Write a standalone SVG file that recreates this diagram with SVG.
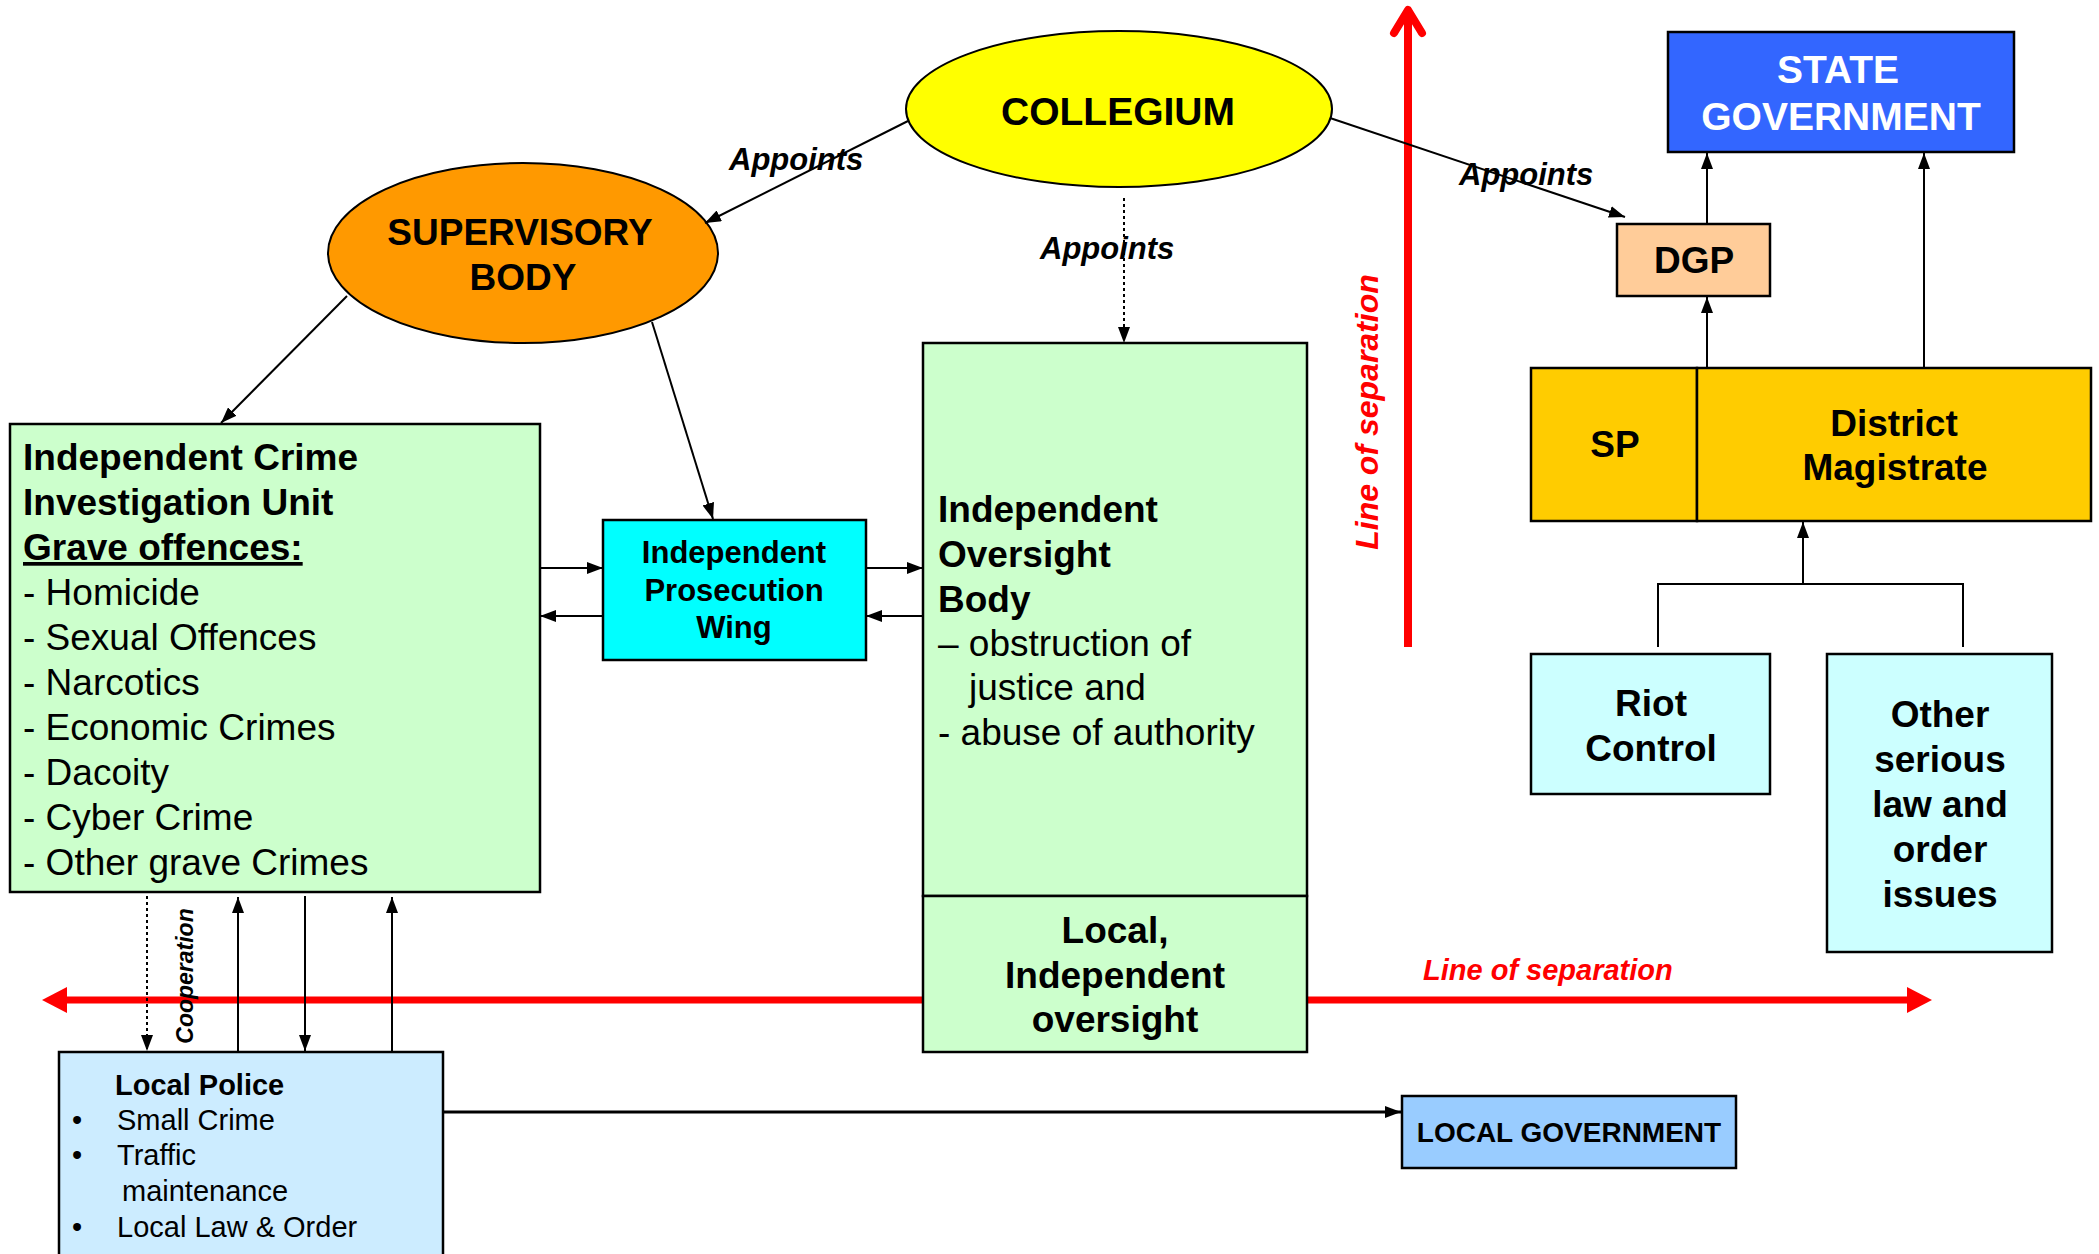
<svg xmlns="http://www.w3.org/2000/svg" width="2099" height="1254" viewBox="0 0 2099 1254">
<defs>
<marker id="ah" viewBox="0 0 16 12" refX="16" refY="6" markerWidth="16" markerHeight="12" markerUnits="userSpaceOnUse" orient="auto"><path d="M0,0 L16,6 L0,12 z" fill="#000"/></marker>
<style>
text{font-family:"Liberation Sans",Arial,sans-serif;fill:#000}
.b{font-weight:bold}
.t37{font-size:37px}
.t36{font-size:37px}
.c{text-anchor:middle}
.lbl{font-size:31px;font-weight:bold;font-style:italic}
.box{stroke:#000;stroke-width:2.5}
.con{stroke:#000;stroke-width:2;fill:none}
.dot{stroke:#000;stroke-width:2;fill:none;stroke-dasharray:3 3}
.red{fill:#FF0000}
.redtxt{fill:#FF0000;font-weight:bold;font-style:italic}
</style>
</defs>
<rect width="2099" height="1254" fill="#fff"/>

<g id="separation">
<line x1="1408" y1="647" x2="1408" y2="10" stroke="#FF0000" stroke-width="8"/>
<polyline points="1394,33 1408,10 1422,33" fill="none" stroke="#FF0000" stroke-width="8" stroke-linecap="round" stroke-linejoin="round"/>
<line x1="62" y1="1000" x2="1910" y2="1000" stroke="#FF0000" stroke-width="7"/>
<polygon class="red" points="1907,987 1932,1000 1907,1013"/>
<polygon class="red" points="67,987 42,1000 67,1013"/>
<text class="redtxt" font-size="32" text-anchor="middle" transform="translate(1378,412) rotate(-90)">Line of separation</text>
<text class="redtxt" font-size="29" x="1423" y="980">Line of separation</text>
</g>

<g id="collegium">
<ellipse cx="1119" cy="109" rx="213" ry="78" fill="#FFFF00" stroke="#000" stroke-width="2"/>
<text class="b c" font-size="39" x="1118" y="125">COLLEGIUM</text>
</g>

<g id="supervisory">
<ellipse cx="523" cy="253" rx="195" ry="90" fill="#FF9900" stroke="#000" stroke-width="2"/>
<text class="b c t36" x="520" y="245">SUPERVISORY</text>
<text class="b c t36" x="523" y="290">BODY</text>
</g>

<g id="iciu">
<rect class="box" x="10" y="424" width="530" height="468" fill="#CCFFCC"/>
<text class="t37" x="23">
<tspan class="b" x="23" y="470">Independent Crime</tspan>
<tspan class="b" x="23" y="515">Investigation Unit</tspan>
<tspan class="b" x="23" y="560" text-decoration="underline">Grave offences:</tspan>
<tspan x="23" y="605">- Homicide</tspan>
<tspan x="23" y="650">- Sexual Offences</tspan>
<tspan x="23" y="695">- Narcotics</tspan>
<tspan x="23" y="740">- Economic Crimes</tspan>
<tspan x="23" y="785">- Dacoity</tspan>
<tspan x="23" y="830">- Cyber Crime</tspan>
<tspan x="23" y="875">- Other grave Crimes</tspan>
</text>
</g>

<g id="prosecution">
<rect class="box" x="603" y="520" width="263" height="140" fill="#00FFFF"/>
<text class="b c" font-size="31" x="734" y="563">Independent</text>
<text class="b c" font-size="31" x="734" y="601">Prosecution</text>
<text class="b c" font-size="31" x="734" y="638">Wing</text>
</g>

<g id="oversight">
<rect class="box" x="923" y="343" width="384" height="553" fill="#CCFFCC"/>
<text class="b t37" x="938" y="522">Independent</text>
<text class="b t37" x="938" y="567">Oversight</text>
<text class="b t37" x="938" y="612">Body</text>
<text class="t37" x="938" y="656">– obstruction of</text>
<text class="t37" x="969" y="700">justice and</text>
<text class="t37" x="938" y="745">- abuse of authority</text>
</g>

<g id="local-oversight">
<rect class="box" x="923" y="896" width="384" height="156" fill="#CCFFCC"/>
<text class="b c t37" x="1115" y="943">Local,</text>
<text class="b c t37" x="1115" y="988">Independent</text>
<text class="b c t37" x="1115" y="1032">oversight</text>
</g>

<g id="state-government">
<rect class="box" x="1668" y="32" width="346" height="120" fill="#3366FF"/>
<text class="b c" font-size="39" x="1838" y="83" style="fill:#fff">STATE</text>
<text class="b c" font-size="39" x="1841" y="130" style="fill:#fff">GOVERNMENT</text>
</g>

<g id="dgp">
<rect class="box" x="1617" y="224" width="153" height="72" fill="#FFCC99"/>
<text class="b c t37" x="1694" y="273">DGP</text>
</g>

<g id="sp">
<rect class="box" x="1531" y="368" width="166" height="153" fill="#FFCC00"/>
<text class="b c t37" x="1615" y="457">SP</text>
</g>

<g id="district-magistrate">
<rect class="box" x="1697" y="368" width="394" height="153" fill="#FFCC00"/>
<text class="b c t37" x="1894" y="436">District</text>
<text class="b c t37" x="1895" y="480">Magistrate</text>
</g>

<g id="riot-control">
<rect class="box" x="1531" y="654" width="239" height="140" fill="#CCFFFF"/>
<text class="b c t37" x="1651" y="716">Riot</text>
<text class="b c t37" x="1651" y="761">Control</text>
</g>

<g id="other-issues">
<rect class="box" x="1827" y="654" width="225" height="298" fill="#CCFFFF"/>
<text class="b c t37" x="1940" y="727">Other</text>
<text class="b c t37" x="1940" y="772">serious</text>
<text class="b c t37" x="1940" y="817">law and</text>
<text class="b c t37" x="1940" y="862">order</text>
<text class="b c t37" x="1940" y="907">issues</text>
</g>

<g id="local-police">
<rect class="box" x="59" y="1052" width="384" height="220" fill="#CCECFF"/>
<text class="b" font-size="29" x="115" y="1095">Local Police</text>
<text x="72" y="1130" font-size="29">•</text>
<text x="117" y="1130" font-size="29">Small Crime</text>
<text x="72" y="1165" font-size="29">•</text>
<text x="117" y="1165" font-size="29">Traffic</text>
<text x="122" y="1201" font-size="29">maintenance</text>
<text x="72" y="1237" font-size="29">•</text>
<text x="117" y="1237" font-size="29">Local Law &amp; Order</text>
</g>

<g id="local-government">
<rect class="box" x="1402" y="1096" width="334" height="72" fill="#99CCFF"/>
<text class="b c" font-size="28" x="1569" y="1142">LOCAL GOVERNMENT</text>
</g>

<g id="connectors">
<line class="con" x1="908" y1="121" x2="705" y2="223" marker-end="url(#ah)"/>
<line class="con" x1="1330" y1="118" x2="1625" y2="217" marker-end="url(#ah)"/>
<line class="dot" x1="1124" y1="198" x2="1124" y2="343" marker-end="url(#ah)"/>
<line class="con" x1="347" y1="296" x2="221" y2="423" marker-end="url(#ah)"/>
<line class="con" x1="652" y1="322" x2="713" y2="519" marker-end="url(#ah)"/>
<line class="con" x1="540" y1="568" x2="603" y2="568" marker-end="url(#ah)"/>
<line class="con" x1="603" y1="616" x2="540" y2="616" marker-end="url(#ah)"/>
<line class="con" x1="866" y1="568" x2="923" y2="568" marker-end="url(#ah)"/>
<line class="con" x1="923" y1="616" x2="866" y2="616" marker-end="url(#ah)"/>
<line class="con" x1="1707" y1="224" x2="1707" y2="153" marker-end="url(#ah)"/>
<line class="con" x1="1707" y1="368" x2="1707" y2="297" marker-end="url(#ah)"/>
<line class="con" x1="1924" y1="368" x2="1924" y2="153" marker-end="url(#ah)"/>
<polyline class="con" points="1658,647 1658,584 1963,584 1963,647"/>
<line class="con" x1="1803" y1="584" x2="1803" y2="522" marker-end="url(#ah)"/>
<line class="dot" x1="147" y1="896" x2="147" y2="1051" marker-end="url(#ah)"/>
<line class="con" x1="238" y1="1051" x2="238" y2="897" marker-end="url(#ah)"/>
<line class="con" x1="305" y1="896" x2="305" y2="1051" marker-end="url(#ah)"/>
<line class="con" x1="392" y1="1051" x2="392" y2="897" marker-end="url(#ah)"/>
<line x1="443" y1="1112" x2="1401" y2="1112" stroke="#000" stroke-width="3" marker-end="url(#ah)"/>
<text class="lbl" x="729" y="170">Appoints</text>
<text class="lbl" x="1040" y="259">Appoints</text>
<text class="lbl" x="1459" y="185">Appoints</text>
<text font-size="23" font-weight="bold" font-style="italic" text-anchor="middle" transform="translate(193,976) rotate(-90)">Cooperation</text>
</g>
</svg>
